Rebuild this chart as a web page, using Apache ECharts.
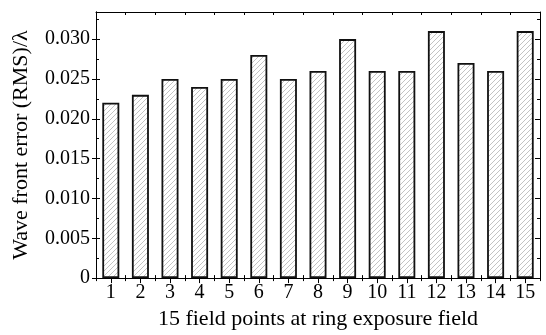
<!DOCTYPE html>
<html>
<head>
<meta charset="utf-8">
<script src="https://cdn.jsdelivr.net/npm/echarts@6/dist/echarts.min.js"></script>
<style>
  html, body { margin: 0; padding: 0; background: #fff; }
  #chart { width: 546px; height: 335px; }
</style>
</head>
<body>
<div id="chart"></div>
<script>
// field points and wave front error (RMS, in wavelengths)
const fieldPoints = ['1', '2', '3', '4', '5', '6', '7', '8', '9', '10', '11', '12', '13', '14', '15']
const rmsError = [0.022, 0.023, 0.025, 0.024, 0.025, 0.028, 0.025, 0.026, 0.030, 0.026, 0.026, 0.031, 0.027, 0.026, 0.031]

const yMin = 0
const yMax = 0.0334
const yStep = 0.005

// hatch pattern for the bars
function makeHatch () {
  const s = 5
  const c = document.createElement('canvas')
  c.width = s
  c.height = s
  const ctx = c.getContext('2d')
  ctx.fillStyle = '#fff'
  ctx.fillRect(0, 0, s, s)
  ctx.strokeStyle = '#b4b4b4'
  ctx.lineWidth = 0.8
  ctx.beginPath()
  ctx.moveTo(0, s); ctx.lineTo(s, 0)
  ctx.moveTo(-1, 1); ctx.lineTo(1, -1)
  ctx.moveTo(s - 1, s + 1); ctx.lineTo(s + 1, s - 1)
  ctx.stroke()
  return c
}

const font = "'Liberation Serif', 'DejaVu Serif', serif"
const line = { show: true, lineStyle: { color: '#000', width: 1 } }

const myChart = echarts.init(document.getElementById('chart'))

function yAxisBase (pos) {
  return {
    type: 'value',
    position: pos,
    min: yMin,
    max: yMax,
    interval: yStep,
    axisLine: line,
    splitLine: { show: false },
    axisLabel: { show: false }
  }
}

function xAxisBase (pos) {
  return {
    type: 'category',
    position: pos,
    data: fieldPoints,
    axisLine: line,
    axisLabel: { show: false },
    splitLine: { show: false }
  }
}

const option = {
  animation: false,
  grid: { left: 96, right: 6, top: 12, bottom: 47 },
  xAxis: [
    Object.assign(xAxisBase('bottom'), {
      name: '15 field points at ring exposure field',
      nameLocation: 'middle',
      nameGap: 23,
      nameTextStyle: { fontFamily: font, fontSize: 22, color: '#000' },
      axisTick: { show: true, length: 3, lineStyle: { color: '#000' } },
      axisLabel: { show: true, fontFamily: font, fontSize: 20, color: '#000', margin: 5, interval: 0 }
    }),
    Object.assign(xAxisBase('bottom'), {
      axisTick: { show: true, inside: true, length: 3, lineStyle: { color: '#000' } }
    }),
    Object.assign(xAxisBase('top'), {
      axisTick: { show: true, inside: true, alignWithLabel: true, length: 5, lineStyle: { color: '#000' } }
    }),
    Object.assign(xAxisBase('top'), {
      axisTick: { show: true, inside: true, length: 3, lineStyle: { color: '#000' } }
    })
  ],
  yAxis: [
    Object.assign(yAxisBase('left'), {
      name: 'Wave front error (RMS)/\u03bb',
      nameLocation: 'middle',
      nameGap: 64,
      nameTextStyle: { fontFamily: font, fontSize: 22, color: '#000' },
      axisTick: { show: true, length: 4, lineStyle: { color: '#000' } },
      axisLabel: {
        show: true,
        fontFamily: font,
        fontSize: 20,
        color: '#000',
        margin: 6,
        showMaxLabel: false,
        formatter: (v) => {
          const k = Math.round(v / yStep)
          if (Math.abs(v - k * yStep) > 1e-9) return ''
          return k === 0 ? '0' : v.toFixed(3)
        }
      }
    }),
    Object.assign(yAxisBase('left'), {
      axisTick: { show: true, inside: true, length: 4, lineStyle: { color: '#000' } },
      minorTick: { show: true, splitNumber: 2, length: 3, lineStyle: { color: '#000' } }
    }),
    Object.assign(yAxisBase('right'), {
      axisTick: { show: true, inside: true, length: 5, lineStyle: { color: '#000' } },
      minorTick: { show: true, splitNumber: 2, length: 3, lineStyle: { color: '#000' } }
    })
  ],
  series: [
    {
      type: 'bar',
      xAxisIndex: 0,
      yAxisIndex: 0,
      data: rmsError,
      barWidth: 17,
      itemStyle: {
        color: { image: makeHatch(), repeat: 'repeat' },
        borderColor: '#111',
        borderWidth: 1.8
      }
    }
  ]
}

myChart.setOption(option)
</script>
</body>
</html>
